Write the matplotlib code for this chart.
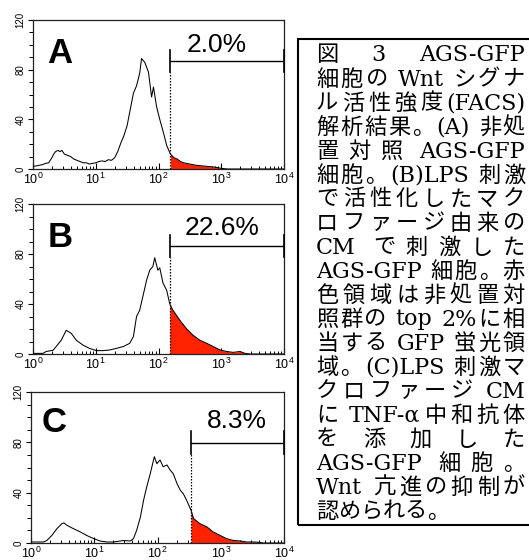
import numpy as np
import matplotlib
matplotlib.use('Agg')
import matplotlib.pyplot as plt
from matplotlib.patches import Rectangle
from matplotlib.ticker import MultipleLocator, LogLocator, NullFormatter

plt.rcParams['font.family'] = ['Liberation Sans', 'DejaVu Sans']
plt.rcParams['mathtext.fontset'] = 'custom'
plt.rcParams['mathtext.rm'] = 'Liberation Sans'
plt.rcParams['mathtext.it'] = 'Liberation Sans:italic'

# ---------------- data (log10 fluorescence, counts) ----------------
A_logx = [0.00, 0.05, 0.10, 0.15, 0.20, 0.25, 0.30, 0.33, 0.36, 0.40, 0.43, 0.46, 0.50, 0.55, 0.60,
          0.65, 0.70, 0.75, 0.80, 0.85, 0.90, 0.95, 1.00, 1.05, 1.10, 1.15, 1.20, 1.25, 1.30, 1.35,
          1.40, 1.45, 1.50, 1.55, 1.60, 1.65, 1.70, 1.73, 1.78, 1.84, 1.89, 1.92, 1.97, 2.02, 2.08,
          2.13, 2.19, 2.25, 2.30, 2.35, 2.40, 2.50, 2.60, 2.70, 2.80, 2.90, 3.00, 3.10, 4.00]
A_count = [2, 2.5, 3, 3.5, 4.5, 5, 9, 12, 14, 15, 14, 15, 12, 11, 10,
           8, 7, 6, 5, 5, 4, 4.5, 5, 6, 6.5, 6, 7.5, 7, 9, 14,
           21, 27, 35, 48, 61, 67, 77, 89, 86, 78, 58, 66, 50, 40, 29,
           19, 12, 9, 8, 6, 5, 4, 3, 2.5, 2, 1.5, 0.5, 0, 0]

B_logx = [0.00, 0.16, 0.21, 0.32, 0.37, 0.45, 0.53, 0.61, 0.69, 0.80, 0.90, 1.01, 1.12, 1.22, 1.33,
          1.44, 1.54, 1.60, 1.65, 1.70, 1.76, 1.81, 1.86, 1.91, 1.94, 1.99, 2.02, 2.07, 2.13, 2.18,
          2.23, 2.34, 2.45, 2.55, 2.66, 2.77, 2.87, 2.98, 3.09, 3.19, 3.30, 3.38, 3.46, 4.00]
B_count = [0.5, 0.5, 2, 3, 6, 11, 19, 16.5, 11, 7, 4.5, 2.7, 2.7, 3.2, 4.5,
           6, 8.5, 14, 30, 35, 48, 59, 67, 70, 77, 67, 69, 57, 51, 40,
           35, 27, 20, 15, 11, 8.5, 6, 3.2, 2, 1.3, 2, 0.5, 0, 0]

C_logx = [0.00, 0.20, 0.25, 0.33, 0.41, 0.49, 0.52, 0.57, 0.67, 0.78, 0.88, 0.99, 1.09, 1.20, 1.31,
          1.46, 1.57, 1.62, 1.67, 1.73, 1.78, 1.83, 1.88, 1.95, 1.99, 2.04, 2.09, 2.15, 2.20, 2.25,
          2.31, 2.36, 2.41, 2.46, 2.53, 2.57, 2.67, 2.78, 2.88, 2.99, 3.09, 3.20, 3.31, 3.41, 3.52,
          3.62, 3.67, 4.00]
C_count = [0.8, 0.8, 2, 6, 11.4, 15.4, 16, 14, 11.4, 8.8, 6, 3.5, 1.6, 0.8, 0.8,
           2, 1.6, 3.5, 10, 20.7, 34, 44.7, 54, 68.6, 63, 66, 60.6, 62, 58, 55,
           47, 42, 39, 34, 26, 19.4, 15.4, 12.8, 8.8, 6, 3.5, 2, 1.6, 0.8, 0.8,
           0.5, 0, 0]

panel_letters = ['A', 'B', 'C']
gate_logx = [2.19, 2.18, 2.53]
gate_bar_y = [87, 86.6, 79.8]
pct_labels = ['2.0%', '22.6%', '8.3%']
pct_logx = [2.93, 3.01, 3.26]
pct_y = [94.2, 95.2, 91.2]
y_ticks = [0, 40, 80, 120]

caption_lines = [
    '図 3 AGS-GFP',
    '細胞の Wnt シグナ',
    'ル活性強度(FACS)',
    '解析結果。(A) 非処',
    '置対照 AGS-GFP',
    '細胞。(B)LPS 刺激',
    'で活性化したマク',
    'ロファージ由来の',
    'CM で刺激した',
    'AGS-GFP 細胞。赤',
    '色領域は非処置対',
    '照群の top 2%に相',
    '当する GFP 蛍光領',
    '域。(C)LPS 刺激マ',
    'クロファージ CM',
    'に TNF-α中和抗体',
    'を添加した',
    'AGS-GFP 細胞。',
    'Wnt 亢進の抑制が',
    '認められる。',
]

# ---------------- layout ----------------
W, H = 529, 560
fig = plt.figure(figsize=(W / 100, H / 100), dpi=100)


def rect(l, t, r, b):
    return [l / W, 1 - b / H, (r - l) / W, (b - t) / H]


axes_px = [(33, 20, 284, 169), (33, 204, 284, 354), (31, 392, 284, 543)]
letter_pos = [(0.056, 0.711), (0.06, 0.713), (0.043, 0.733)]
RED = '#ff2200'

series = [(A_logx, A_count), (B_logx, B_count), (C_logx, C_count)]
for i, (lx, cnt) in enumerate(series):
    ax = fig.add_axes(rect(*axes_px[i]))
    lx = np.array(lx)
    cnt = np.array(cnt)
    x = 10 ** lx
    g = 10 ** gate_logx[i]
    m = lx >= gate_logx[i]
    ax.fill_between(x[m], cnt[m], 0, color=RED, lw=0, zorder=2)
    ax.plot(x, cnt, color='k', lw=0.75, zorder=3)
    by = gate_bar_y[i]
    ax.plot([g, g], [0, by - 9], color='k', lw=0.9, ls=(0, (1.2, 1.2)), zorder=4)
    ax.plot([g, 1e4], [by, by], color='k', lw=1.0, zorder=4)
    ax.plot([g, g], [by - 9, by + 9], color='k', lw=1.2, zorder=4)
    ax.plot([1e4, 1e4], [by - 9, by + 9], color='k', lw=1.2, zorder=4, clip_on=False)
    ax.text(10 ** pct_logx[i], pct_y[i], pct_labels[i], fontsize=19, ha='center', va='baseline')
    ax.text(letter_pos[i][0], letter_pos[i][1], panel_letters[i], transform=ax.transAxes,
            fontsize=25, fontweight='bold', ha='left', va='baseline')

    ax.set_xscale('log')
    ax.set_xlim(1, 1e4)
    ax.set_ylim(0, 120)
    ax.xaxis.set_major_locator(LogLocator(base=10, numticks=10))
    ax.xaxis.set_minor_locator(LogLocator(base=10, subs=np.arange(2, 10), numticks=10))
    ax.xaxis.set_minor_formatter(NullFormatter())
    ax.set_yticks(y_ticks)
    ax.yaxis.set_minor_locator(MultipleLocator(10))
    ax.tick_params(axis='x', which='major', direction='in', length=4, width=0.8, labelsize=9, pad=2)
    ax.tick_params(axis='x', which='minor', direction='in', length=2.5, width=0.7)
    ax.tick_params(axis='y', which='major', direction='out', length=3.5, width=0.8, labelsize=7,
                   labelrotation=90, pad=2)
    ax.tick_params(axis='y', which='minor', direction='out', length=3, width=0.7)
    for lab in ax.get_yticklabels():
        lab.set_va('center')
    for s in ax.spines.values():
        s.set_linewidth(0.9)
        s.set_color('#222222')

# ---------------- caption box ----------------
fig.patches.append(Rectangle((298 / W, 1 - 525 / H), 1.2, (525 - 39) / H, transform=fig.transFigure,
                             fill=False, ec='k', lw=1.5, clip_on=False))

CAP_FS = 16
cap_family = ['DejaVu Serif', 'Noto Sans CJK JP']
x_left, x_right = 316, 525
space_px = 0.318 * CAP_FS * 100 / 72


def tokenize(line):
    toks = []
    cur = ''
    cur_sp = False
    pending = False
    for ch in line:
        if ch == ' ':
            if cur:
                toks.append((cur, cur_sp))
                cur = ''
            pending = True
        elif ord(ch) >= 0x2E80:
            if cur:
                toks.append((cur, cur_sp))
                cur = ''
            toks.append((ch, pending))
            pending = False
        else:
            if not cur:
                cur_sp = pending
                pending = False
            cur += ch
    if cur:
        toks.append((cur, cur_sp))
    return toks


renderer = fig.canvas.get_renderer()
for i, line in enumerate(caption_lines):
    base_px = 61.5 + 24.0 * i
    yf = 1 - base_px / H
    toks = tokenize(line)
    texts = []
    widths = []
    for tk, sp in toks:
        t = fig.text(0, yf, tk, fontsize=CAP_FS, family=cap_family, ha='left', va='baseline')
        texts.append(t)
        widths.append(t.get_window_extent(renderer).width)
    nsp = sum(1 for tk, sp in toks if sp)
    total = sum(widths) + nsp * space_px
    last = (i == len(caption_lines) - 1)
    extra = 0 if (last or len(toks) < 2) else (x_right - x_left - total) / (len(toks) - 1)
    xp = x_left
    for j, (t, (tk, sp)) in enumerate(zip(texts, toks)):
        if j > 0:
            xp += extra + (space_px if sp else 0)
        t.set_x(xp / W)
        xp += widths[j]

fig.savefig('out.png', dpi=100)
